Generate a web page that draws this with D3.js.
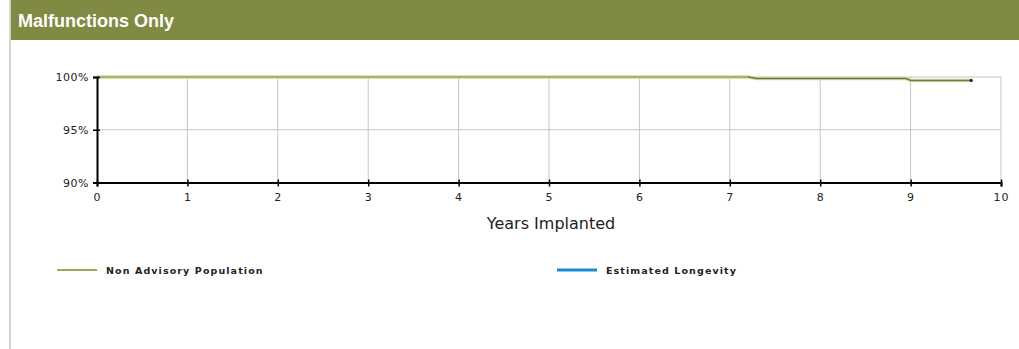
<!DOCTYPE html>
<html><head><meta charset="utf-8">
<script src="https://cdn.jsdelivr.net/npm/d3@7"></script>
<style>body{margin:0;background:#fff;overflow:hidden}</style>
</head><body>
<svg id="c" width="1019" height="349"></svg>
<script>
const title = "Malfunctions Only";
const xLabel = "Years Implanted";
const xTicks = [0,1,2,3,4,5,6,7,8,9,10];
const yTicks = [90,95,100];
const seriesNames = ["Non Advisory Population","Estimated Longevity"];
const seriesColors = ["#9aa858","#1a8ad4"];
// survival curve (years, percent)
const years =   [0,   7.2,  7.3,   8.95,  9.0,  9.67];
const survival =[100, 100,  99.86, 99.86, 99.68, 99.68];

const svg = d3.select("#c");
svg.append("rect").attr("x",9).attr("y",0).attr("width",2).attr("height",349).attr("fill","#d4d4d4");
svg.append("rect").attr("x",11).attr("y",0).attr("width",1008).attr("height",40).attr("fill","#808a42");
svg.append("text").attr("x",18).attr("y",27).attr("fill","#fff")
  .attr("font-family","Liberation Sans, Arial, sans-serif").attr("font-weight","bold").attr("font-size",18).text(title);

const x = d3.scaleLinear().domain([0,10]).range([97,1001]);
const y = d3.scaleLinear().domain([90,100]).range([182.5,77]);

const g = svg.append("g");
g.selectAll(".vg").data(xTicks.slice(1)).join("line")
  .attr("x1",d=>x(d)).attr("x2",d=>x(d)).attr("y1",y(100)).attr("y2",y(90))
  .attr("stroke","#c4c4c4").attr("stroke-width",1);
g.selectAll(".hg").data(yTicks.slice(1)).join("line")
  .attr("x1",x(0)).attr("x2",x(10)).attr("y1",d=>y(d)).attr("y2",d=>y(d))
  .attr("stroke","#c4c4c4").attr("stroke-width",1);

const pts = years.map((v,i)=>[v,survival[i]]);
const line = d3.line().x(d=>x(d[0])).y(d=>y(d[1]));
g.append("path").attr("d",line(pts)).attr("fill","none").attr("stroke","#d2d99c").attr("stroke-width",3.5);
g.append("path").attr("d",line(pts)).attr("fill","none").attr("stroke",seriesColors[0]).attr("stroke-width",1.5);
g.append("path").attr("d",line(pts.slice(1))).attr("fill","none").attr("stroke","#6a6a50").attr("stroke-width",1);
const last = pts[pts.length-1];
g.append("circle").attr("cx",x(last[0])).attr("cy",y(last[1])).attr("r",1.6).attr("fill","#222");

const font = "DejaVu Sans, Verdana, sans-serif";
const xa = svg.append("g").attr("transform",`translate(0,${y(90)})`)
  .call(d3.axisBottom(x).tickValues(xTicks).tickFormat(d3.format("d")).tickSize(4).tickPadding(7));
xa.select(".domain").attr("stroke","#000").attr("stroke-width",2);
xa.selectAll(".tick line").attr("stroke","#000").attr("stroke-width",1.5).attr("y1",-3).attr("y2",4);
xa.selectAll("text").attr("font-family",font).attr("font-size",11).attr("fill","#222").attr("letter-spacing","1px");
const ya = svg.append("g").attr("transform",`translate(${x(0)},0)`)
  .call(d3.axisLeft(y).tickValues(yTicks).tickFormat(d=>d+"%").tickSize(4).tickPadding(4));
ya.select(".domain").attr("stroke","#000").attr("stroke-width",2);
ya.selectAll(".tick line").attr("stroke","#000").attr("stroke-width",1.5).attr("x1",3).attr("x2",-4);
ya.selectAll("text").attr("font-family",font).attr("font-size",11).attr("fill","#222").attr("letter-spacing","0.5px");

svg.append("text").attr("x",551).attr("y",229).attr("text-anchor","middle")
  .attr("font-family",font).attr("font-size",16).attr("fill","#222").text(xLabel);

const legX = [57,557];
const legW = [2,3];
seriesNames.forEach((n,i)=>{
  svg.append("line").attr("x1",legX[i]).attr("x2",legX[i]+40).attr("y1",270).attr("y2",270)
    .attr("stroke",seriesColors[i]).attr("stroke-width",legW[i]);
  svg.append("text").attr("x",legX[i]+49).attr("y",274)
    .attr("font-family",font).attr("font-weight","bold").attr("font-size",9.5)
    .attr("fill","#222").attr("letter-spacing","1.1px").text(n);
});
</script>
</body></html>
